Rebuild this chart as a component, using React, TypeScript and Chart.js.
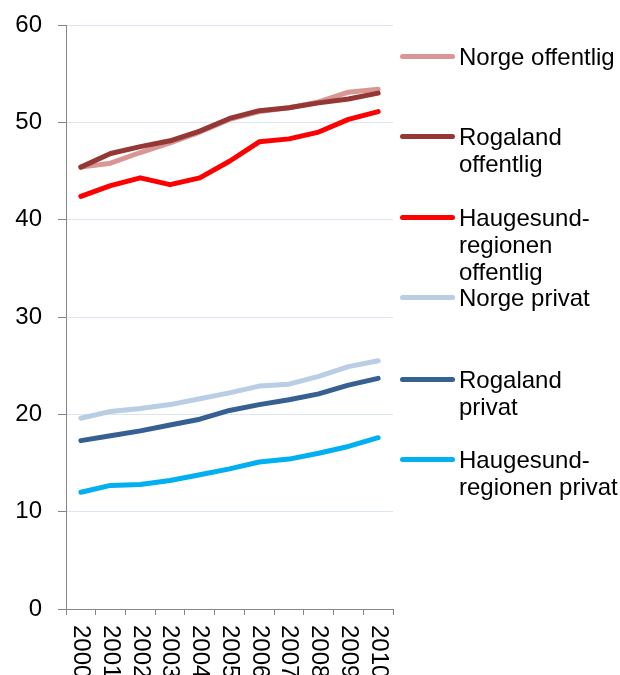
import React, { useEffect, useRef } from "react";
import { Chart, registerables } from "chart.js";

Chart.register(...registerables);

const years = ["2000", "2001", "2002", "2003", "2004", "2005", "2006", "2007", "2008", "2009", "2010"];

const norgeOffentlig = [45.4, 45.8, 46.9, 47.9, 49.0, 50.3, 51.1, 51.5, 52.1, 53.1, 53.4];
const rogalandOffentlig = [45.4, 46.8, 47.5, 48.1, 49.1, 50.4, 51.2, 51.5, 52.0, 52.4, 53.0];
const haugesundOffentlig = [42.4, 43.5, 44.3, 43.6, 44.3, 46.0, 48.0, 48.3, 49.0, 50.3, 51.1];
const norgePrivat = [19.6, 20.3, 20.6, 21.0, 21.6, 22.2, 22.9, 23.1, 23.9, 24.9, 25.5];
const rogalandPrivat = [17.3, 17.8, 18.3, 18.9, 19.5, 20.4, 21.0, 21.5, 22.1, 23.0, 23.7];
const haugesundPrivat = [12.0, 12.7, 12.8, 13.2, 13.8, 14.4, 15.1, 15.4, 16.0, 16.7, 17.6];

const seriesNames = [
  ["Norge offentlig"],
  ["Rogaland", "offentlig"],
  ["Haugesund-", "regionen", "offentlig"],
  ["Norge privat"],
  ["Rogaland", "privat"],
  ["Haugesund-", "regionen privat"],
];
const seriesColors = ["#d99694", "#953735", "#ff0000", "#b9cde5", "#376092", "#00b0f0"];
const seriesValues = [
  norgeOffentlig,
  rogalandOffentlig,
  haugesundOffentlig,
  norgePrivat,
  rogalandPrivat,
  haugesundPrivat,
];

const yTicks = { min: 0, max: 60, step: 10 };

const FONT = "'Liberation Sans', Arial, sans-serif";
const legendRowCenters = [56, 136.7, 217.7, 297.7, 379, 459.3];

const xLabelPlugin = {
  id: "xLabelsDown",
  afterDraw(chart: any) {
    const ctx = chart.ctx;
    const xs = chart.scales.x;
    const y0 = chart.chartArea.bottom + 16;
    ctx.save();
    ctx.fillStyle = "#000";
    ctx.font = `24px ${FONT}`;
    ctx.textAlign = "left";
    ctx.textBaseline = "middle";
    years.forEach((lab, i) => {
      const x = xs.getPixelForValue(i);
      ctx.save();
      ctx.translate(x, y0);
      ctx.rotate(Math.PI / 2);
      ctx.fillText(lab, 0, 0);
      ctx.restore();
    });
    ctx.restore();
  },
};

export default function App() {
  const ref = useRef<HTMLCanvasElement | null>(null);

  useEffect(() => {
    if (!ref.current) return;
    const chart = new Chart(ref.current, {
      type: "line",
      data: {
        labels: years,
        datasets: seriesValues.map((vals, i) => ({
          label: seriesNames[i].join(" "),
          data: vals,
          borderColor: seriesColors[i],
          backgroundColor: seriesColors[i],
          borderWidth: 5,
          borderCapStyle: "round" as const,
          borderJoinStyle: "round" as const,
          pointRadius: 0,
          tension: 0,
          fill: false,
          order: -i,
        })),
      },
      options: {
        responsive: false,
        animation: false,
        layout: { padding: { top: 25, right: 227, bottom: 0, left: 0 } },
        plugins: { legend: { display: false }, tooltip: { enabled: false } },
        scales: {
          x: {
            type: "category",
            offset: true,
            grid: {
              offset: true,
              drawOnChartArea: false,
              drawTicks: true,
              tickLength: 6,
              tickColor: "#868686",
              color: "#868686",
            },
            border: { display: true, color: "#868686", width: 1 },
            ticks: { display: false },
            afterFit: (s: any) => {
              s.height = 66;
              s.paddingLeft = 0;
              s.paddingRight = 0;
            },
          },
          y: {
            min: yTicks.min,
            max: yTicks.max,
            ticks: {
              stepSize: yTicks.step,
              color: "#000",
              font: { family: FONT, size: 24 },
              padding: 16,
            },
            grid: {
              color: "#dce6f2",
              tickColor: "#868686",
              tickLength: 8,
              lineWidth: 1,
            },
            border: { display: true, color: "#868686", width: 1 },
            afterFit: (s: any) => {
              s.width = 66;
              s.paddingTop = 0;
              s.paddingBottom = 0;
            },
          },
        },
      },
      plugins: [xLabelPlugin],
    });
    return () => chart.destroy();
  }, []);

  return (
    <div style={{ position: "fixed", left: 0, top: 0, width: 620, height: 675, overflow: "hidden" }}>
      <canvas ref={ref} width={620} height={675} style={{ display: "block" }} />
      {seriesNames.map((lines, i) => (
        <div
          key={i}
          style={{
            position: "absolute",
            left: 400,
            top: legendRowCenters[i] - 13.5,
            display: "flex",
            alignItems: "flex-start",
            fontFamily: FONT,
            fontSize: 24,
            lineHeight: "27px",
            color: "#000",
            whiteSpace: "nowrap",
          }}
        >
          <div
            style={{
              width: 55,
              height: 5,
              borderRadius: 3,
              background: seriesColors[i],
              marginTop: 11,
              marginRight: 4,
            }}
          />
          <div>
            {lines.map((l, j) => (
              <div key={j}>{l}</div>
            ))}
          </div>
        </div>
      ))}
    </div>
  );
}
